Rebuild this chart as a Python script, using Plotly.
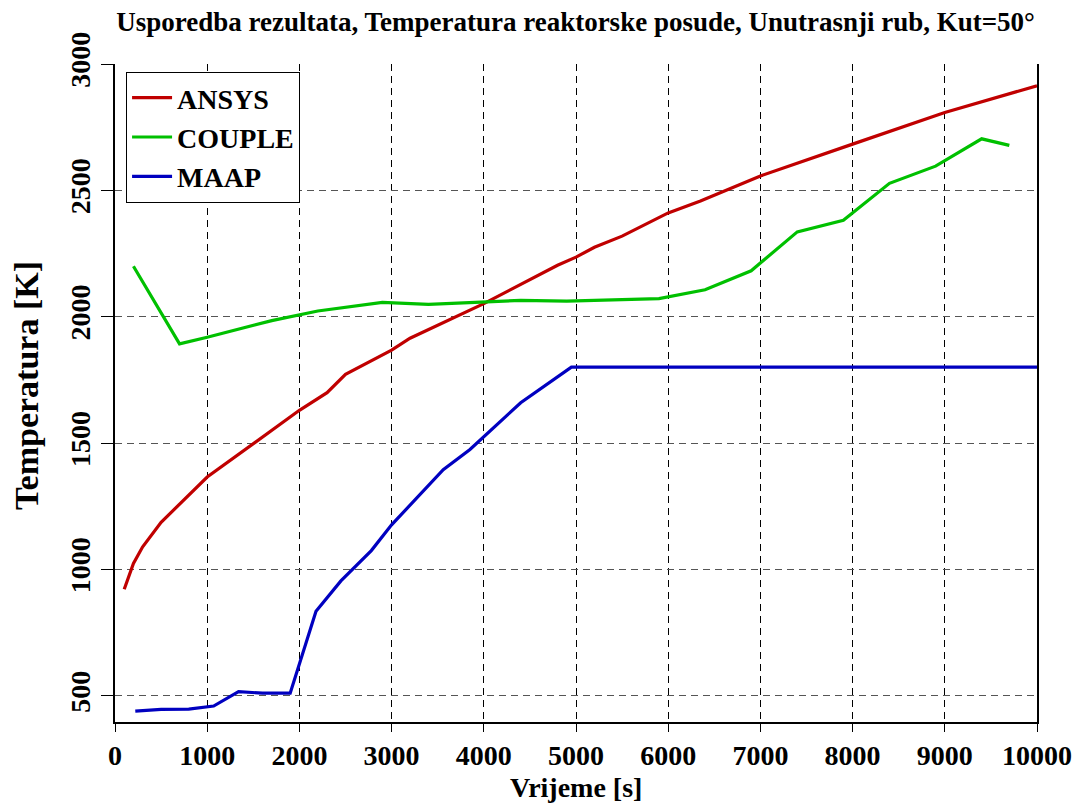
import plotly.graph_objects as go

ansys_x = [100, 200, 300, 500, 1000, 1500, 2000, 2300, 2500, 3000, 3200, 4000, 4800, 5000, 5200, 5500, 6000, 6350, 7000, 8000, 9000, 10000]
ansys_y = [922, 1024, 1090, 1187, 1366, 1499, 1630, 1700, 1772, 1868, 1915, 2052, 2204, 2236, 2275, 2319, 2411, 2458, 2557, 2683, 2808, 2914]

couple_x = [200, 700, 1000, 1700, 2200, 2900, 3400, 4000, 4400, 4900, 5900, 6400, 6900, 7400, 7900, 8400, 8900, 9400, 9700]
couple_y = [2200, 1893, 1919, 1985, 2023, 2057, 2049, 2058, 2065, 2062, 2072, 2107, 2182, 2336, 2382, 2528, 2596, 2704, 2678]

maap_x = [220, 500, 800, 1070, 1340, 1600, 1900, 2180, 2450, 2780, 3000, 3560, 3850, 4400, 4950, 10000]
maap_y = [440, 447, 448, 460, 517, 511, 511, 835, 955, 1075, 1177, 1395, 1475, 1660, 1801, 1801]

x_ticks = [0, 1000, 2000, 3000, 4000, 5000, 6000, 7000, 8000, 9000, 10000]
y_ticks = [500, 1000, 1500, 2000, 2500, 3000]

title_text = "Usporedba rezultata, Temperatura reaktorske posude, Unutrasnji rub, Kut=50°"
x_title = "Vrijeme [s]"
y_title = "Temperatura [K]"

FONT = "Liberation Serif"
W, H = 1076, 803

fig = go.Figure()
fig.add_trace(go.Scatter(x=ansys_x, y=ansys_y, mode="lines", name="ANSYS",
                         line=dict(color="#C00000", width=3.2)))
fig.add_trace(go.Scatter(x=couple_x, y=couple_y, mode="lines", name="COUPLE",
                         line=dict(color="#00C000", width=3.2)))
fig.add_trace(go.Scatter(x=maap_x, y=maap_y, mode="lines", name="MAAP",
                         line=dict(color="#0000C0", width=3.2)))

fig.update_layout(
    width=W, height=H,
    margin=dict(l=115, r=39, t=64, b=81, autoexpand=False),
    paper_bgcolor="white", plot_bgcolor="white",
    font=dict(family=FONT, size=28, color="black", weight="bold"),
    title=dict(text=title_text, xref="paper", x=0.4995, xanchor="center",
               yref="container", y=1 - 22 / H, yanchor="middle",
               font=dict(family=FONT, size=27, color="black", weight="bold")),
    legend=dict(x=0.012, y=0.988, xanchor="left", yanchor="top",
                bgcolor="white", bordercolor="black", borderwidth=1,
                font=dict(family=FONT, size=28, color="black", weight="bold"),
                itemwidth=40, tracegroupgap=0),
    xaxis=dict(range=[0, 10000], tickvals=x_ticks, ticktext=[str(v) for v in x_ticks],
               showline=True, linecolor="black", linewidth=1.5, mirror=False,
               ticks="outside", ticklen=8, tickcolor="black",
               showgrid=True, gridcolor="black", gridwidth=1, griddash="7px,5px",
               zeroline=False, automargin=False,
               tickfont=dict(family=FONT, size=28, color="black", weight="bold")),
    yaxis=dict(range=[397, 3000], tickvals=y_ticks, ticktext=[str(v) for v in y_ticks],
               showline=True, linecolor="black", linewidth=1.5, mirror=True,
               ticks="outside", ticklen=12, tickcolor="black", tickangle=-90,
               showgrid=True, gridcolor="#555555", gridwidth=1, griddash="7px,5px",
               zeroline=False, automargin=False,
               tickfont=dict(family=FONT, size=28, color="black", weight="bold")),
    annotations=[
        dict(text=x_title, xref="paper", yref="paper", x=0.4995, y=(722 - 787) / 658,
             xanchor="center", yanchor="middle", showarrow=False,
             font=dict(family=FONT, size=28, color="black", weight="bold")),
        dict(text=y_title, xref="paper", yref="paper", x=(26 - 115) / 922, y=(722 - 386) / 658,
             xanchor="center", yanchor="middle", showarrow=False, textangle=-90,
             font=dict(family=FONT, size=34, color="black", weight="bold")),
    ],
)

fig.write_html("out.html",
               config={"displayModeBar": False},
               post_script="document.body.style.margin='0';document.body.style.overflow='hidden';")
